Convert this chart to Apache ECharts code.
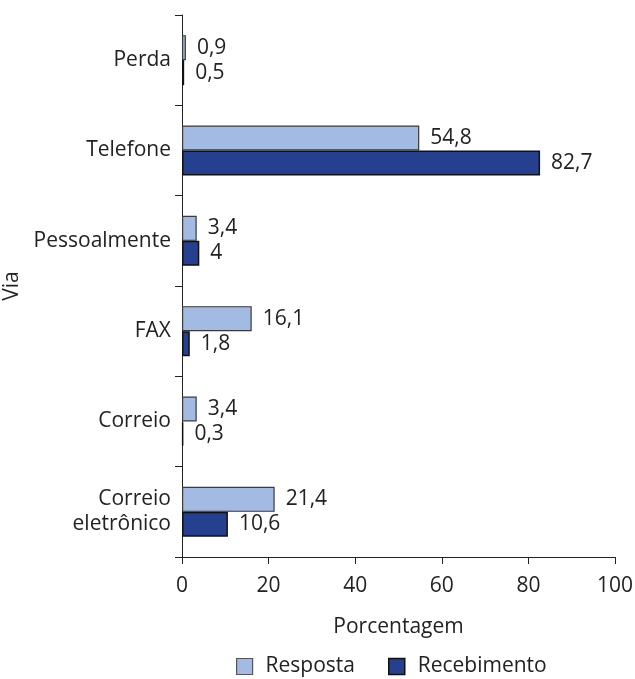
<!DOCTYPE html>
<html><head><meta charset="utf-8">
<script src="https://cdn.jsdelivr.net/npm/echarts@6/dist/echarts.min.js"></script>
<style>html,body{margin:0;padding:0;background:#fff}#c{width:635px;height:679px}</style>
</head><body><div id="c"></div>
<script>
const categories = ['Perda', 'Telefone', 'Pessoalmente', 'FAX', 'Correio', 'Correio\neletrônico'];
const resposta = [0.9, 54.8, 3.4, 16.1, 3.4, 21.4];
const recebimento = [0.5, 82.7, 4, 1.8, 0.3, 10.6];
const xTicks = [0, 20, 40, 60, 80, 100];

const FONT = 'Open Sans';
const FS = 21;
const TXT = '#222';
const fmt = p => String(p.value).replace('.', ',');
const chart = echarts.init(document.getElementById('c'), null, {renderer: 'canvas'});
chart.setOption({
  animation: false,
  textStyle: {fontFamily: FONT},
  grid: {left: 182, right: 20, top: 15, bottom: 122, containLabel: false, outerBoundsMode: 'none'},
  legend: {
    top: 651, left: 231, icon: 'rect', itemWidth: 16, itemHeight: 16, itemGap: 33,
    textStyle: {fontFamily: FONT, fontSize: FS, color: TXT, padding: [0, 0, 0, 8]},
    data: [
      {name: 'Resposta', itemStyle: {color: '#a3bbe3', borderColor: '#555', borderWidth: 1.2}},
      {name: 'Recebimento', itemStyle: {color: '#24408f', borderColor: '#111', borderWidth: 1.5}}
    ]
  },
  xAxis: {
    type: 'value', min: xTicks[0], max: xTicks[xTicks.length - 1], interval: 20,
    name: 'Porcentagem', nameLocation: 'middle', nameGap: 60,
    nameTextStyle: {fontFamily: FONT, fontSize: FS, color: TXT},
    axisLine: {show: true, lineStyle: {color: '#222', width: 1}},
    axisTick: {show: true, length: 7, lineStyle: {color: '#222'}},
    axisLabel: {fontFamily: FONT, fontSize: FS, color: TXT, margin: 19},
    splitLine: {show: false}
  },
  yAxis: {
    type: 'category', data: categories, inverse: true,
    name: 'Via', nameLocation: 'middle', nameGap: 155,
    nameTextStyle: {fontFamily: FONT, fontSize: FS, color: TXT},
    axisLine: {show: true, lineStyle: {color: '#222', width: 1}},
    axisTick: {show: true, length: 7, alignWithLabel: false, lineStyle: {color: '#222'}},
    axisLabel: {fontFamily: FONT, fontSize: FS, color: TXT, margin: 11, lineHeight: 25, align: 'right'}
  },
  series: [
    {
      name: 'Resposta', type: 'bar', data: resposta, barWidth: 25, barGap: '0%',
      itemStyle: {color: '#a3bbe3', borderColor: '#3a3a3a', borderWidth: 1.2},
      label: {show: true, position: 'right', distance: 11, formatter: fmt,
        fontFamily: FONT, fontSize: FS, color: TXT}
    },
    {
      name: 'Recebimento', type: 'bar', data: recebimento, barWidth: 25,
      itemStyle: {color: '#24408f', borderColor: '#111', borderWidth: 1.5},
      label: {show: true, position: 'right', distance: 11, formatter: fmt,
        fontFamily: FONT, fontSize: FS, color: TXT}
    }
  ]
});
</script></body></html>
